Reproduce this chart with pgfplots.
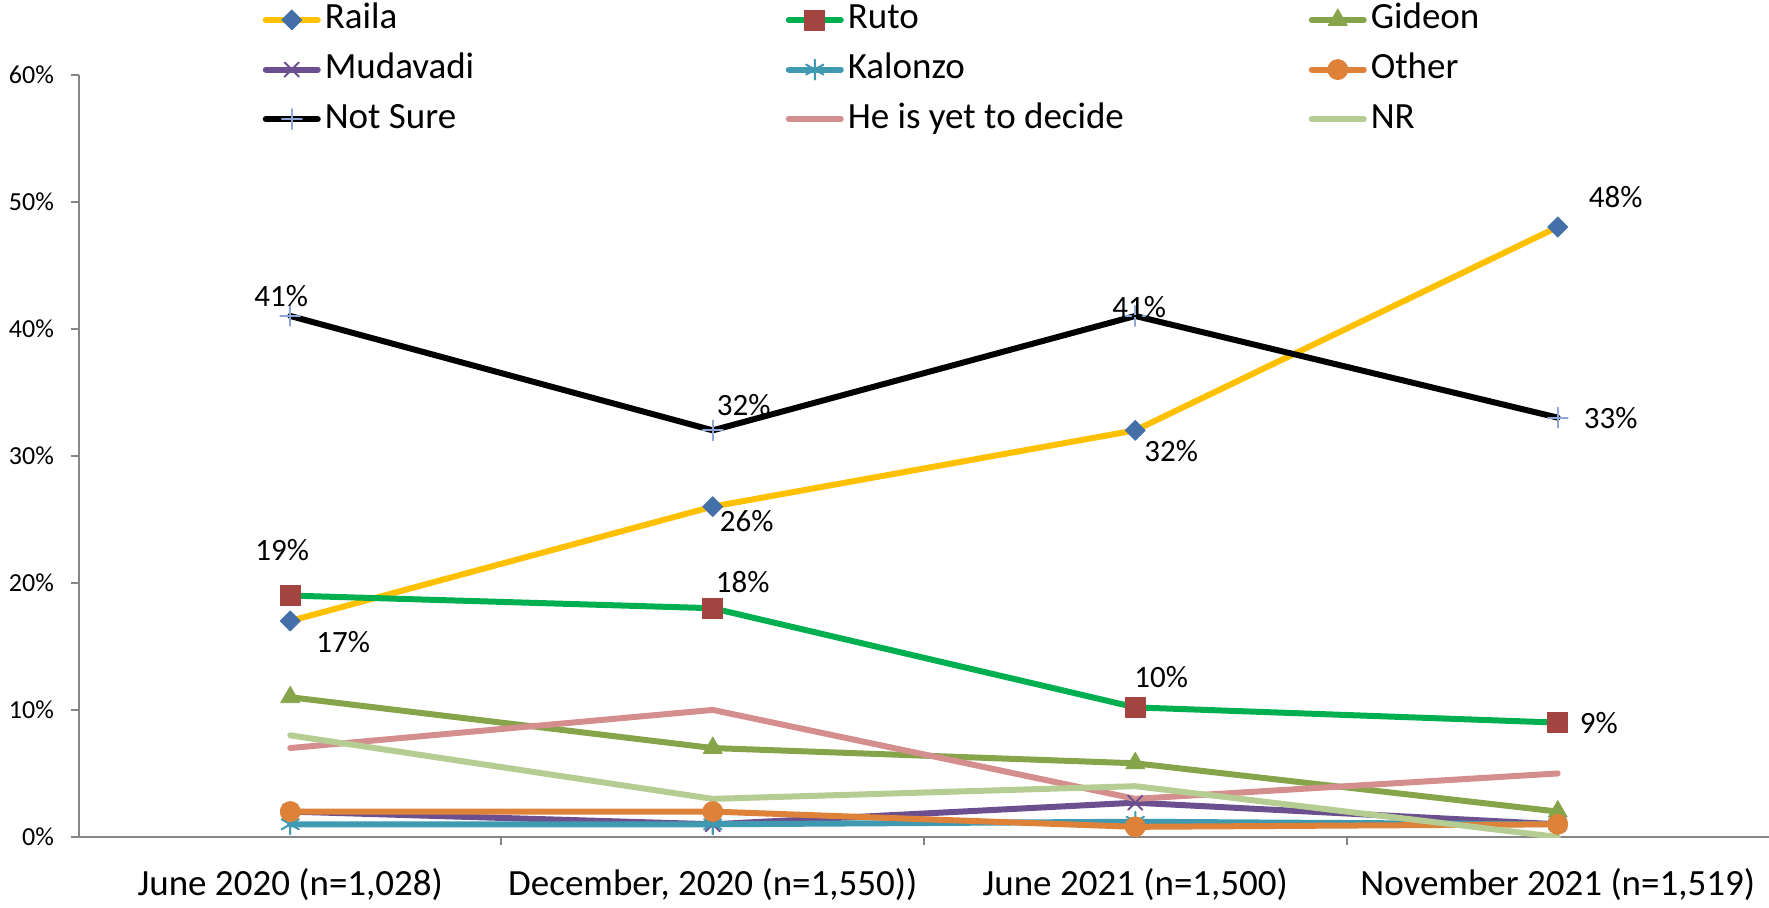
\documentclass[border=0pt]{standalone}
\usepackage{pgfplots}
\pgfplotsset{compat=1.18}
\usepackage{fontspec}
\setmainfont{Carlito}
\definecolor{axisgray}{HTML}{868686}
\definecolor{railaL}{HTML}{FFC000}
\definecolor{railaM}{HTML}{4370A8}
\definecolor{rutoL}{HTML}{00B050}
\definecolor{rutoM}{HTML}{A44441}
\definecolor{gid}{HTML}{86A44A}
\definecolor{muda}{HTML}{6B4F8E}
\definecolor{kalo}{HTML}{3F99B0}
\definecolor{other}{HTML}{DE8139}
\definecolor{nsM}{HTML}{8DA8D5}
\definecolor{yet}{HTML}{D48E8E}
\definecolor{nr}{HTML}{B5CC92}
\begin{document}
\begin{tikzpicture}
\begin{axis}[
  scale only axis, width=845pt, height=381.25pt,
  at={(0pt,0pt)}, anchor=south west,
  xmin=0, xmax=4, ymin=0, ymax=60,
  axis lines*=left,
  axis line style={draw=axisgray, line width=1pt},
  /pgf/number format/assume math mode=true,
  xtick={1,2,3}, xticklabels={},
  extra x ticks={0.5,1.5,2.5,3.5},
  extra x tick labels={{June 2020 (n=1,028)},{December, 2020 (n=1,550))},{June 2021 (n=1,500)},{November 2021 (n=1,519)}},
  extra x tick style={major tick length=0pt, tick style={draw=none}},
  xticklabel style={font=\fontsize{18.5}{20}\selectfont, yshift=-12pt},
  ytick={0,10,...,60},
  yticklabel={\pgfmathprintnumber{\tick}\%},
  yticklabel style={font=\fontsize{13}{15}\selectfont, xshift=-5pt},
  tick align=outside, major tick length=4pt,
  tick style={draw=axisgray, line width=1pt},
  every axis plot/.append style={line width=3pt, line cap=round, line join=round},
  legend columns=3,
  legend style={at={(axis description cs:0.1085,1.0065)}, anchor=west, draw=none, fill=none, inner sep=0pt,
    font=\fontsize{18.5}{20}\selectfont, row sep=3.8pt,
    nodes={inner sep=2pt, text height=13pt, text depth=4pt}},
  legend cell align=left,
  legend image code/.code={\draw[mark repeat=2, mark phase=2] plot coordinates {(0pt,0pt) (13pt,0pt) (26pt,0pt)};},
]
\addplot[railaL, mark=diamond*, mark size=5pt, mark options={solid, xscale=1.333, fill=railaM, draw=railaM, line width=0.4pt}]
  coordinates {(0.5,17) (1.5,26) (2.5,32) (3.5,48)};
\addlegendentry{\makebox[228.5pt][l]{Raila}}
\addplot[rutoL, mark=square*, mark size=5pt, mark options={solid, fill=rutoM, draw=rutoM, line width=0.4pt}]
  coordinates {(0.5,19) (1.5,18) (2.5,10.2) (3.5,9)};
\addlegendentry{\makebox[228.5pt][l]{Ruto}}
\addplot[gid, mark=triangle*, mark size=5.5pt, mark options={solid, fill=gid, draw=gid, line width=0.4pt}]
  coordinates {(0.5,11) (1.5,7) (2.5,5.8) (3.5,2)};
\addlegendentry{Gideon}
\addplot[muda, mark=x, mark size=5pt, mark options={solid, line width=1pt}]
  coordinates {(0.5,2) (1.5,1) (2.5,2.7) (3.5,1)};
\addlegendentry{\makebox[228.5pt][l]{Mudavadi}}
\addplot[kalo, mark=asterisk, mark size=5pt, mark options={solid, line width=1pt}]
  coordinates {(0.5,1) (1.5,1) (2.5,1.2) (3.5,1)};
\addlegendentry{\makebox[228.5pt][l]{Kalonzo}}
\addplot[other, mark=*, mark size=5pt, mark options={solid, fill=other, draw=other, line width=0.4pt}]
  coordinates {(0.5,2) (1.5,2) (2.5,0.8) (3.5,1)};
\addlegendentry{Other}
\addplot[black, mark=+, mark size=5pt, mark options={solid, draw=nsM, line width=1pt}]
  coordinates {(0.5,41) (1.5,32) (2.5,41) (3.5,33)};
\addlegendentry{\makebox[228.5pt][l]{Not Sure}}
\addplot[yet] coordinates {(0.5,7) (1.5,10) (2.5,3) (3.5,5)};
\addlegendentry{\makebox[228.5pt][l]{He is yet to decide}}
\addplot[nr] coordinates {(0.5,8) (1.5,3) (2.5,4) (3.5,0)};
\addlegendentry{NR}
% data labels
\addplot[draw=none, mark=none, forget plot,
  point meta=explicit,
  nodes near coords={\pgfmathprintnumber{\pgfplotspointmeta}\%},
  visualization depends on={value \thisrow{dx}\as\labdx},
  visualization depends on={value \thisrow{dy}\as\labdy},
  every node near coord/.append style={anchor=center, xshift=\labdx pt, yshift=\labdy pt, text=black,
    font=\fontsize{15.5}{17}\selectfont}]
  table[x=x, y=y, meta=lab] {
x   y    lab dx    dy
0.5 17   17  26.5  -10.5
1.5 26   26  17    -7
2.5 32   32  18    -10.5
3.5 48   48  29    15
0.5 19   19  -4    22.5
1.5 18   18  15    13
2.5 10.2 10  13    15
3.5 9    9   20.5  0
0.5 41   41  -4.5  10
1.5 32   32  15.5  12.5
2.5 41   41  2     4.5
3.5 33   33  26.5  0
};
\end{axis}
\pgfresetboundingbox
\useasboundingbox (-39.5pt,-35pt) rectangle (845pt,418.5pt);
\end{tikzpicture}
\end{document}
